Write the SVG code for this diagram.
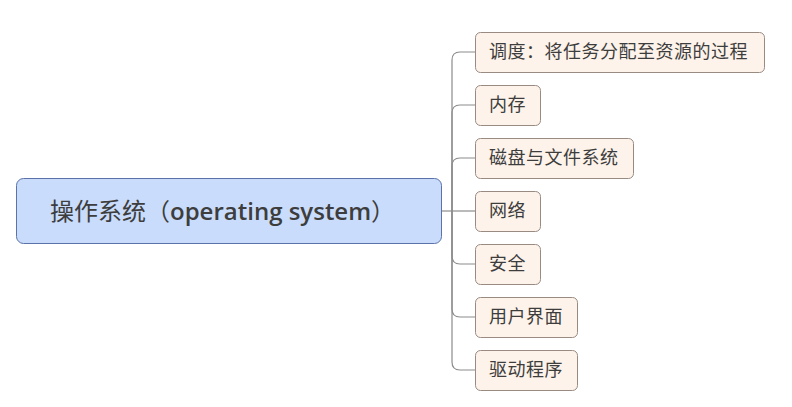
<svg xmlns="http://www.w3.org/2000/svg" width="792" height="407" viewBox="0 0 792 407">
<style>
.root rect{fill:#c9dcfb;stroke:#5b73a8;stroke-width:1}
.root text{font-family:"Open Sans","Noto Sans CJK SC",sans-serif;font-size:24px;fill:#3d3d3d}
.root .lat{font-weight:600}
.child rect{fill:#fdf3ea;stroke:#9a8b82;stroke-width:1}
.child text{font-family:"Noto Sans CJK SC",sans-serif;font-size:18px;fill:#3d3d3d;letter-spacing:0.5px}
.conn path{fill:none;stroke:#8c8c8c;stroke-width:1.2}
</style>
<rect width="792" height="407" fill="#ffffff"/>
<g class="conn" id="connectors">
<path d="M441,211 H452"/>
<path d="M452,211 V60 Q452,52 460,52 H475"/>
<path d="M452,211 V113 Q452,105 460,105 H475"/>
<path d="M452,211 V166 Q452,158 460,158 H475"/>
<path d="M452,211 H475"/>
<path d="M452,211 V256 Q452,264 460,264 H475"/>
<path d="M452,211 V309 Q452,317 460,317 H475"/>
<path d="M452,211 V362 Q452,370 460,370 H475"/>
</g>
<g class="root" id="node-root">
<rect x="16.5" y="178.5" width="425" height="65" rx="7"/>
<text x="50" y="220">操作系统（<tspan class="lat">operating system</tspan>）</text>
</g>
<g class="child" id="node-1">
<rect x="475.5" y="32.5" width="289" height="40" rx="5"/>
<text x="489" y="58">调度：将任务分配至资源的过程</text>
</g>
<g class="child" id="node-2">
<rect x="475.5" y="85.5" width="65" height="40" rx="5"/>
<text x="489" y="111">内存</text>
</g>
<g class="child" id="node-3">
<rect x="475.5" y="138.5" width="158" height="40" rx="5"/>
<text x="489" y="164">磁盘与文件系统</text>
</g>
<g class="child" id="node-4">
<rect x="475.5" y="191.5" width="65" height="40" rx="5"/>
<text x="489" y="217">网络</text>
</g>
<g class="child" id="node-5">
<rect x="475.5" y="244.5" width="65" height="40" rx="5"/>
<text x="489" y="270">安全</text>
</g>
<g class="child" id="node-6">
<rect x="475.5" y="297.5" width="102" height="40" rx="5"/>
<text x="489" y="323">用户界面</text>
</g>
<g class="child" id="node-7">
<rect x="475.5" y="350.5" width="102" height="40" rx="5"/>
<text x="489" y="376">驱动程序</text>
</g>
</svg>
